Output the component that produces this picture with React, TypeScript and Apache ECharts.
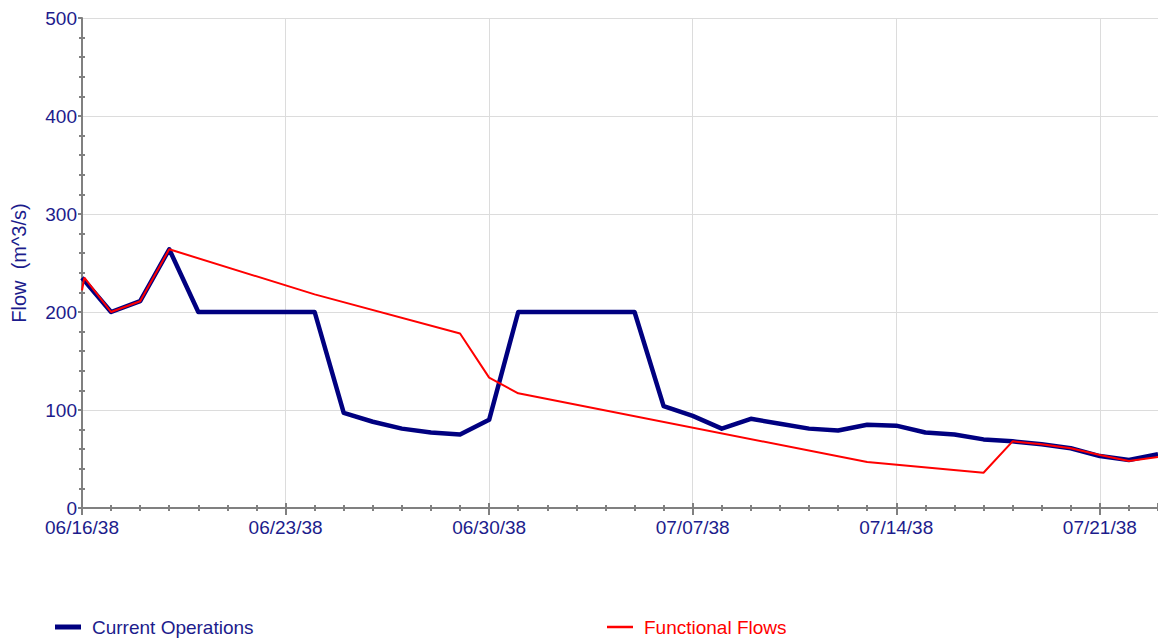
import React, { useEffect, useRef } from "react";
import * as echarts from "echarts";

// Day labels, starting 06/16/38 (one per day)
const dates: string[] = [
  "06/16/38", "06/17/38", "06/18/38", "06/19/38", "06/20/38", "06/21/38", "06/22/38",
  "06/23/38", "06/24/38", "06/25/38", "06/26/38", "06/27/38", "06/28/38", "06/29/38",
  "06/30/38", "07/01/38", "07/02/38", "07/03/38", "07/04/38", "07/05/38", "07/06/38",
  "07/07/38", "07/08/38", "07/09/38", "07/10/38", "07/11/38", "07/12/38", "07/13/38",
  "07/14/38", "07/15/38", "07/16/38", "07/17/38", "07/18/38", "07/19/38", "07/20/38",
  "07/21/38", "07/22/38", "07/23/38",
];

// Current Operations: one value per day
const currentOps: number[] = [
  235, 200, 211, 264, 200, 200, 200, 200, 200, 97,
  88, 81, 77, 75, 90, 200, 200, 200, 200, 200,
  104, 94, 81, 91, 86, 81, 79, 85, 84, 77,
  75, 70, 68, 65, 61, 53, 49, 55,
];

// Functional Flows: vertices (day offset from 06/16/38, value)
const functionalDays: number[] = [0, 0.08, 1, 2, 3, 8, 13, 14, 15, 27, 31, 32, 33, 34, 35, 36, 37];
const functionalVals: number[] = [222, 235, 200, 211, 264, 218, 178, 133, 117, 47, 36, 68, 65, 61, 54, 48, 52];

const yTicks: number[] = [0, 100, 200, 300, 400, 500];

const NAVY = "#000080";
const TEXT = "#1c1c8c";
const AXIS = "#808080";
const FONT = "Liberation Sans, Arial, sans-serif";

export default function App() {
  const ref = useRef<HTMLDivElement>(null);
  useEffect(() => {
    document.body.style.margin = "0";
    const chart = echarts.init(ref.current!, null, { renderer: "svg" });
    const maxDay = dates.length - 1;
    const baseX = { type: "value", min: 0, max: maxDay, gridIndex: 0, position: "bottom" };
    const baseY = { type: "value", min: yTicks[0], max: yTicks[yTicks.length - 1], interval: 100, gridIndex: 0, position: "left" };
    chart.setOption({
      animation: false,
      backgroundColor: "#ffffff",
      grid: { left: 82, right: 0, top: 18, bottom: 131, containLabel: false },
      xAxis: [
        {
          ...baseX,
          interval: 7,
          axisLine: { show: true, lineStyle: { color: AXIS, width: 2 } },
          axisTick: { show: true, length: 7, lineStyle: { color: AXIS, width: 2 } },
          axisLabel: {
            show: true,
            margin: 10,
            color: TEXT,
            fontSize: 19,
            fontFamily: FONT,
            showMaxLabel: false,
            formatter: (v: number) => (Number.isInteger(v) && v % 7 === 0 ? dates[v] : ""),
          },
          splitLine: { show: true, lineStyle: { color: "#dcdcdc", width: 1 } },
        },
        {
          ...baseX,
          interval: 7,
          axisLine: { show: false },
          axisTick: { show: true, inside: true, length: 5, lineStyle: { color: AXIS, width: 2 } },
          axisLabel: { show: false },
          splitLine: { show: false },
        },
        {
          ...baseX,
          interval: 1,
          axisLine: { show: false },
          axisTick: { show: true, length: 3, lineStyle: { color: AXIS, width: 2 } },
          axisLabel: { show: false },
          splitLine: { show: false },
        },
        {
          ...baseX,
          interval: 1,
          axisLine: { show: false },
          axisTick: { show: true, inside: true, length: 3, lineStyle: { color: AXIS, width: 2 } },
          axisLabel: { show: false },
          splitLine: { show: false },
        },
      ],
      yAxis: [
        {
          ...baseY,
          name: "Flow  (m^3/s)",
          nameLocation: "middle",
          nameGap: 53,
          nameTextStyle: { color: TEXT, fontSize: 20, fontFamily: FONT },
          axisLine: { show: true, lineStyle: { color: AXIS, width: 2 } },
          axisTick: { show: true, length: 4, lineStyle: { color: AXIS, width: 2 } },
          minorTick: { show: true, splitNumber: 5, length: 3, lineStyle: { color: AXIS, width: 2 } },
          axisLabel: { show: true, margin: 5, color: TEXT, fontSize: 19, fontFamily: FONT },
          splitLine: { show: true, lineStyle: { color: "#dcdcdc", width: 1 } },
        },
        {
          ...baseY,
          axisLine: { show: false },
          axisTick: { show: false, inside: true },
          minorTick: { show: true, splitNumber: 5, length: 3, lineStyle: { color: AXIS, width: 2 } },
          axisLabel: { show: false },
          splitLine: { show: false },
        },
      ],
      legend: [
        {
          data: [{ name: "Current Operations", textStyle: { color: TEXT } }],
          left: 55,
          top: 616,
          padding: 0,
          icon: "rect",
          itemWidth: 26,
          itemHeight: 5,
          textStyle: { fontSize: 19, lineHeight: 22, fontFamily: FONT, color: TEXT, padding: [0, 0, 0, 6] },
        },
        {
          data: [{ name: "Functional Flows", textStyle: { color: "#ff0000" } }],
          left: 607,
          top: 616,
          padding: 0,
          icon: "rect",
          itemWidth: 26,
          itemHeight: 2.5,
          textStyle: { fontSize: 19, lineHeight: 22, fontFamily: FONT, color: "#ff0000", padding: [0, 0, 0, 6] },
        },
      ],
      series: [
        {
          name: "Current Operations",
          type: "line",
          xAxisIndex: 0,
          yAxisIndex: 0,
          showSymbol: false,
          symbol: "none",
          itemStyle: { color: NAVY },
          lineStyle: { color: NAVY, width: 4.5, join: "round" },
          data: currentOps.map((v, i) => [i, v]),
          z: 2,
        },
        {
          name: "Functional Flows",
          type: "line",
          xAxisIndex: 0,
          yAxisIndex: 0,
          showSymbol: false,
          symbol: "none",
          itemStyle: { color: "#ff0000" },
          lineStyle: { color: "#ff0000", width: 2 },
          data: functionalDays.map((d, i) => [d, functionalVals[i]]),
          z: 3,
        },
      ],
    });
    return () => chart.dispose();
  }, []);
  return <div ref={ref} style={{ width: 1158, height: 639 }} />;
}
